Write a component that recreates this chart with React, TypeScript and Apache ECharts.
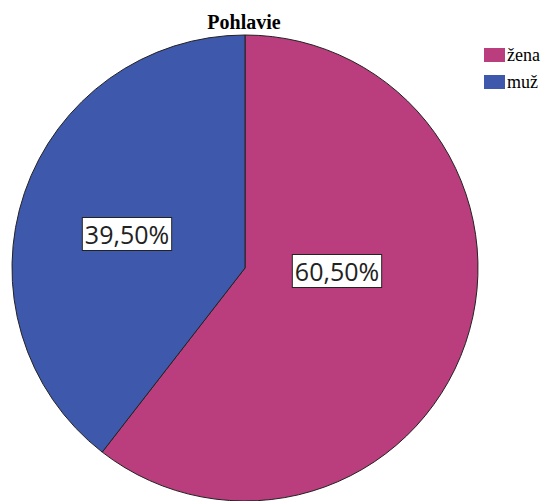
import React, { useEffect, useRef } from "react";
import * as echarts from "echarts";

const categories = ["žena", "muž"];
const values = [60.5, 39.5];
const labels = ["60,50%", "39,50%"];
const colors = ["#BA3D7D", "#3E58AC"];
const titleText = "Pohlavie";

const SERIF = "'Liberation Serif', 'DejaVu Serif', serif";

// label anchor points (layout, not data)
const LABEL_ANCHORS: [number, number][] = [
  [337, 271],
  [127, 234],
];

export default function App() {
  const ref = useRef<HTMLDivElement>(null);
  useEffect(() => {
    document.body.style.margin = "0";
    const chart = echarts.init(ref.current!, null, { renderer: "svg" });
    chart.setOption({
      animation: false,
      backgroundColor: "#ffffff",
      title: {
        text: titleText,
        left: 239,
        textAlign: "center",
        top: 7,
        textStyle: {
          fontFamily: SERIF,
          fontWeight: "bold",
          fontSize: 20,
          color: "#000",
        },
      },
      legend: {
        orient: "vertical",
        left: 479,
        top: 41,
        icon: "rect",
        itemWidth: 21,
        itemHeight: 14,
        itemGap: 9,
        data: categories,
        textStyle: {
          fontFamily: SERIF,
          fontSize: 18,
          lineHeight: 14,
          color: "#000",
          padding: [0, 0, 0, -3],
        },
        itemStyle: { borderWidth: 0 },
      },
      series: [
        {
          type: "pie",
          center: [245, 268],
          radius: 233,
          startAngle: 90,
          clockwise: true,
          data: categories.map((c, i) => ({
            name: c,
            value: values[i],
            itemStyle: { color: colors[i] },
            label: { formatter: labels[i] },
          })),
          itemStyle: { borderColor: "#222", borderWidth: 1 },
          label: {
            show: true,
            position: "inside",
            fontFamily: "'Open Sans', 'Noto Sans', sans-serif",
            fontSize: 25,
            color: "#222",
            backgroundColor: "#ffffff",
            borderColor: "#222",
            borderWidth: 1,
            padding: [2, 2, 0, 2],
            lineHeight: 30,
          },
          labelLayout: (p: any) => {
            const a = LABEL_ANCHORS[p.dataIndex];
            return { x: a[0], y: a[1], align: "center", verticalAlign: "middle" };
          },
          emphasis: { disabled: true },
          silent: true,
        },
      ],
    });
    return () => chart.dispose();
  }, []);
  return <div ref={ref} style={{ width: 542, height: 501 }} />;
}
